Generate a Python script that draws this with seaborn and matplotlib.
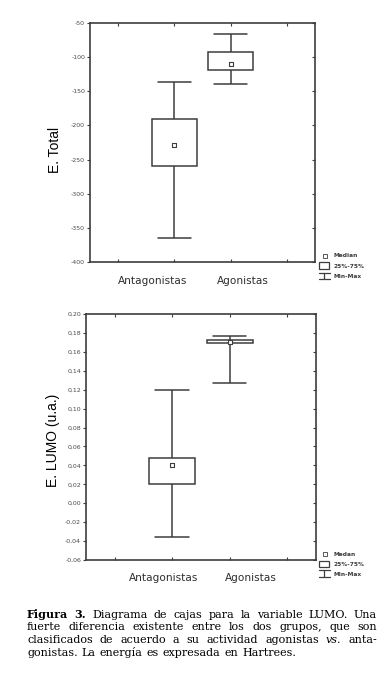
import numpy as np
import pandas as pd
import matplotlib
matplotlib.use("Agg")
import matplotlib.pyplot as plt
import matplotlib.transforms as mtransforms
from matplotlib.lines import Line2D
from matplotlib.patches import Rectangle
import seaborn as sns

# ---------------- data ----------------
categories = ["Antagonistas", "Agonistas"]

# E. Total : five-number summaries (min, q1, median, q3, max)
etotal_min = [-364, -140]
etotal_q1 = [-259, -119]
etotal_median = [-229, -110]
etotal_q3 = [-191, -93]
etotal_max = [-137, -66]
etotal_ticks = [-400, -350, -300, -250, -200, -150, -100, -50]
etotal_ticklabels = ["-400", "-350", "-300", "-250", "-200", "-150", "-100", "-50"]

# E. LUMO (u.a.)
lumo_min = [-0.036, 0.127]
lumo_q1 = [0.020, 0.169]
lumo_median = [0.040, 0.170]
lumo_q3 = [0.048, 0.172]
lumo_max = [0.120, 0.177]
lumo_ticks = [-0.06, -0.04, -0.02, 0.00, 0.02, 0.04, 0.06, 0.08, 0.10,
              0.12, 0.14, 0.16, 0.18, 0.20]
lumo_ticklabels = ["-0,06", "-0,04", "-0,02", "0,00", "0,02", "0,04", "0,06",
                   "0,08", "0,10", "0,12", "0,14", "0,16", "0,18", "0,20"]

legend_top = ["Median", "25%-75%", "Min-Max"]
legend_bottom = ["Medan", "25%-75%", "Min-Max"]

caption_lines = [
    "Figura 3. Diagrama de cajas para la variable LUMO. Una",
    "fuerte diferencia existente entre los dos grupos, que son",
    "clasificados de acuerdo a su actividad agonistas vs. anta-",
    "gonistas. La energía es expresada en Hartrees.",
]
bold_words = {(0, 0), (0, 1)}
italic_words = {(2, 7)}

# ---------------- style ----------------
sns.set_theme(style="white")
plt.rcParams["font.family"] = ["DejaVu Sans"]
LINE = "#3d3d3d"
TICKC = "#4a4a4a"

W, H = 387, 696
fig = plt.figure(figsize=(W / 100, H / 100), dpi=100)
fig.patch.set_facecolor("white")


def fx(x):
    return x / W


def fy(y):
    return 1 - y / H


def panel(ax, mins, q1s, meds, q3s, maxs, ticks, ticklabels, ylim,
          ylabel, ylabel_xy, cat_offsets, cat_y):
    values = np.ravel(np.column_stack([mins, q1s, meds, q3s, maxs]))
    df = pd.DataFrame({"grupo": np.repeat(categories, 5), "valor": values})
    sns.boxplot(data=df, x="grupo", y="valor", order=categories,
                whis=(0, 100), width=0.8, color="white", linecolor=LINE,
                linewidth=1.1, showfliers=False, capwidths=0.58,
                medianprops={"visible": False}, ax=ax)
    sns.stripplot(x=categories, y=meds, order=categories, jitter=False,
                  marker="s", size=3.2, color="white", edgecolor=LINE,
                  linewidth=0.8, ax=ax, zorder=5)
    ax.set_xlim(-1.5, 2.5)
    ax.set_ylim(*ylim)
    ax.set_xticks([-1, 0, 1, 2])
    ax.set_xticklabels([])
    ax.set_yticks(ticks)
    ax.set_yticklabels(ticklabels)
    ax.set_xlabel("")
    ax.tick_params(axis="y", direction="out", length=2.5, width=0.8,
                   color=LINE, labelsize=4.5, labelcolor=TICKC, pad=1,
                   left=True)
    ax.tick_params(axis="x", direction="in", length=2.5, width=0.8,
                   color=LINE, bottom=True)
    for s in ax.spines.values():
        s.set_visible(True)
        s.set_color(LINE)
        s.set_linewidth(1.2)
    secy = ax.secondary_yaxis("right")
    secy.set_yticks(ticks)
    secy.set_yticklabels([])
    secy.tick_params(direction="in", length=2.5, width=0.8, color=LINE)
    secy.spines["right"].set_visible(False)
    secx = ax.secondary_xaxis("top")
    secx.set_xticks([-1, 0, 1, 2])
    secx.set_xticklabels([])
    secx.tick_params(direction="in", length=2.5, width=0.8, color=LINE)
    secx.spines["top"].set_visible(False)

    ax.set_ylabel(ylabel, fontsize=10, family=["Liberation Sans"],
                  color="black", va="center")
    ax.yaxis.set_label_coords(*ylabel_xy)

    trans = mtransforms.blended_transform_factory(ax.transData, ax.transAxes)
    for i, (cat, off) in enumerate(zip(categories, cat_offsets)):
        ax.text(i + off, cat_y, cat, transform=trans, ha="center",
                va="center", fontsize=7.6, color="#2e2e2e")


def legend(labels, ys):
    y_med, y_b0, y_b1, y_i0, y_i1, t_ys = ys
    fig.add_artist(Line2D([fx(324.5)], [fy(y_med)], transform=fig.transFigure,
                          marker="s", ms=2.4, mfc="white", mec=LINE, mew=0.6,
                          ls="none"))
    fig.add_artist(Rectangle((fx(319), fy(y_b1)), 10 / W, (y_b1 - y_b0) / H,
                             transform=fig.transFigure, facecolor="white",
                             edgecolor=LINE, linewidth=0.9))
    for yy in (y_i0, y_i1):
        fig.add_artist(Line2D([fx(319), fx(329.5)], [fy(yy), fy(yy)],
                              transform=fig.transFigure, color=LINE, lw=0.9))
    fig.add_artist(Line2D([fx(324.3), fx(324.3)], [fy(y_i0), fy(y_i1)],
                          transform=fig.transFigure, color=LINE, lw=0.9))
    for lab, ty in zip(labels, t_ys):
        fig.text(fx(333), fy(ty), lab, fontsize=4.2, fontweight="bold",
                 color="#3a3a3a", ha="left", va="center")


ax1 = fig.add_axes([fx(90), fy(262.3), (315 - 90) / W, (262.3 - 22.7) / H])
panel(ax1, etotal_min, etotal_q1, etotal_median, etotal_q3, etotal_max,
      etotal_ticks, etotal_ticklabels, (-400, -50), "E. Total",
      (-0.156, 0.469), (-0.38, 0.22), -0.078)

ax2 = fig.add_axes([fx(86), fy(560), (315.7 - 86) / W, (560 - 314) / H])
panel(ax2, lumo_min, lumo_q1, lumo_median, lumo_q3, lumo_max,
      lumo_ticks, lumo_ticklabels, (-0.06, 0.20), "E. LUMO (u.a.)",
      (-0.144, 0.488), (-0.14, 0.37), -0.073)

legend(legend_top, (255.5, 262.3, 269, 273.3, 278.8, (255.5, 266.5, 277)))
legend(legend_bottom, (554, 560.7, 567.3, 570.3, 577, (554, 564.3, 574.3)))

# ---------------- caption (justified) ----------------
CAP_FS = 8.0
renderer = fig.canvas.get_renderer()
left_px, right_px = 27, 377
baselines = [617.5, 630.3, 643.1, 655.9]


def measure(s, **kw):
    t = fig.text(0, 0, s, fontsize=CAP_FS, family=["DejaVu Serif"], **kw)
    w = t.get_window_extent(renderer=renderer).width
    t.remove()
    return w


space_w = measure("x x") - measure("xx")
for li, line in enumerate(caption_lines):
    words = line.split(" ")
    texts, widths = [], []
    for wi, word in enumerate(words):
        kw = {}
        if (li, wi) in bold_words:
            kw["fontweight"] = "bold"
        if (li, wi) in italic_words:
            kw["fontstyle"] = "italic"
        t = fig.text(0, fy(baselines[li]), word, fontsize=CAP_FS,
                     family=["DejaVu Serif"], color="black", va="baseline",
                     ha="left", **kw)
        texts.append(t)
        widths.append(t.get_window_extent(renderer=renderer).width)
    if li < len(caption_lines) - 1 and len(words) > 1:
        gap = (right_px - left_px - sum(widths)) / (len(words) - 1)
    else:
        gap = space_w * 1.15
    x = left_px
    for t, w in zip(texts, widths):
        t.set_x(fx(x))
        x += w + gap

fig.savefig("out.png", dpi=100, facecolor="white")
